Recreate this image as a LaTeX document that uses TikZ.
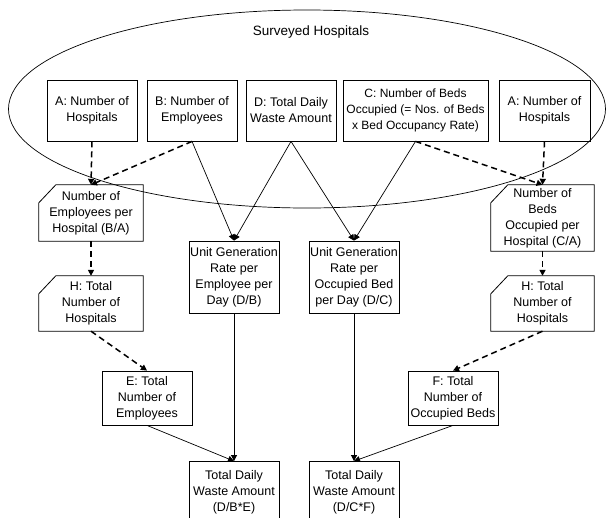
\documentclass[tikz,border=0pt]{standalone}
\usepackage{fontspec}
\setmainfont{Liberation Sans}
\usetikzlibrary{arrows.meta,shapes.geometric}
\begin{document}
\begin{tikzpicture}[x=1pt,y=-1pt,
  txt/.style={align=center,font=\fontsize{12.5}{16}\selectfont,inner sep=0pt},
  box/.style={txt,draw,line width=0.8pt},
  cbox/.style={txt},
  sol/.style={line width=0.7pt,-{Triangle[length=6pt,width=6pt]}},
  dsh/.style={line width=1.5pt,dash pattern=on 6pt off 4pt,-{Triangle[length=6pt,width=6pt]}},
  chamf/.style={line width=0.8pt}]
\useasboundingbox (0,0) rectangle (607,517);
\fill[white] (0,0) rectangle (607,517);
% ellipse
\node[ellipse,draw,line width=0.7pt,minimum width=597pt,minimum height=198pt,inner sep=0pt] (survey) at (307,109) {};
\node[txt,font=\fontsize{13.5}{16}\selectfont] (title) at (311,32) {Surveyed Hospitals};
% top row
\node[box,minimum width=90pt,minimum height=61pt] (A1) at (92,110.5) {A: Number of\\Hospitals};
\node[box,minimum width=90pt,minimum height=61pt] (B) at (192,110.5) {B: Number of\\Employees};
\node[box,minimum width=90pt,minimum height=61pt] (D) at (291,110.5) {D: Total Daily\\Waste Amount};
\node[box,minimum width=145pt,minimum height=61pt,font=\fontsize{12}{16}\selectfont] (C) at (415.5,110.5) {C: Number of Beds\\Occupied (= Nos. of Beds\\x Bed Occupancy Rate)};
\node[box,minimum width=91pt,minimum height=61pt] (A2) at (544.5,110.5) {A: Number of\\Hospitals};
% chamfered boxes
\node[cbox,minimum width=104pt,minimum height=56pt] (EPH) at (91,213) {Number of\\Employees per\\Hospital (B/A)};
\node[cbox,minimum width=103pt,minimum height=66pt] (BPH) at (542.5,218) {Number of\\Beds\\Occupied per\\Hospital (C/A)};
\node[cbox,minimum width=104pt,minimum height=55pt] (HL) at (91,303.5) {H: Total\\Number of\\Hospitals};
\node[cbox,minimum width=103pt,minimum height=55pt] (HR) at (542.5,303.5) {H: Total\\Number of\\Hospitals};
\foreach \n in {EPH,BPH,HL,HR}{
  \draw[chamf] ([yshift=-18pt]\n.north west) -- ([xshift=17pt]\n.north west) -- (\n.north east) -- (\n.south east) -- (\n.south west) -- cycle;
}
% middle
\node[box,minimum width=90pt,minimum height=72pt] (UGE) at (234,277) {Unit Generation\\Rate per\\Employee per\\Day (D/B)};
\node[box,minimum width=90pt,minimum height=72pt] (UGB) at (354,277) {Unit Generation\\Rate per\\Occupied Bed\\per Day (D/C)};
\node[box,minimum width=90pt,minimum height=54pt] (E) at (147,398) {E: Total\\Number of\\Employees};
\node[box,minimum width=90pt,minimum height=54pt] (F) at (453,398) {F: Total\\Number of\\Occupied Beds};
\node[box,minimum width=90pt,minimum height=62pt] (TD1) at (234,492.5) {Total Daily\\Waste Amount\\(D/B*E)};
\node[box,minimum width=90pt,minimum height=62pt] (TD2) at (354,492.5) {Total Daily\\Waste Amount\\(D/C*F)};
% connectors
\draw[dsh] (A1.south) -- (EPH.north);
\draw[dsh] (B.south) -- (EPH.north);
\draw[sol] (B.south) -- (UGE.north);
\draw[sol] (D.south) -- (UGE.north);
\draw[sol] (D.south) -- (UGB.north);
\draw[sol] (C.south) -- (UGB.north);
\draw[dsh] (C.south) -- (BPH.north);
\draw[dsh] (A2.south) -- (BPH.north);
\draw[dsh] (EPH.south) -- (HL.north);
\draw[dsh] (BPH.south) -- (HR.north);
\draw[dsh] (HL.south) -- (E.north);
\draw[dsh] (HR.south) -- (F.north);
\draw[sol] (UGE.south) -- (TD1.north);
\draw[sol] (E.south) -- (TD1.north);
\draw[sol] (UGB.south) -- (TD2.north);
\draw[sol] (F.south) -- (TD2.north);
\end{tikzpicture}
\end{document}
